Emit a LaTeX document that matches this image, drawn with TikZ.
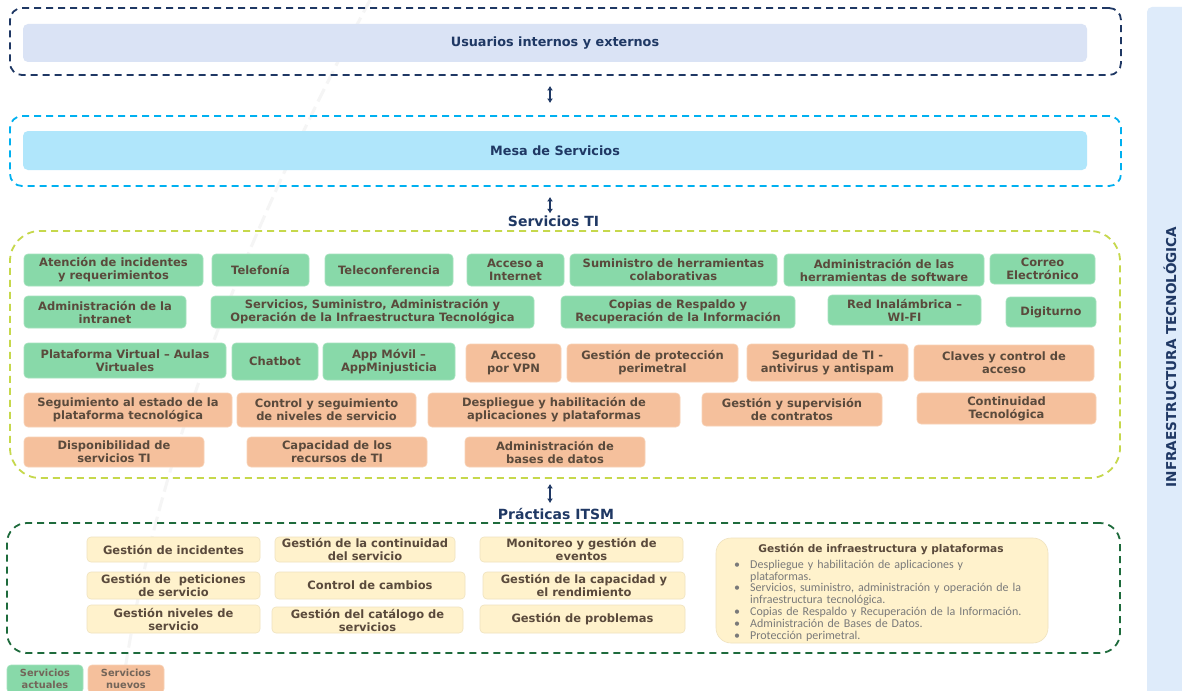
\documentclass[tikz,border=0pt]{standalone}
\usepackage{fontspec}
\setmainfont{DejaVu Sans}
\newfontfamily\carl{Carlito}
\usetikzlibrary{arrows.meta}
\definecolor{navy}{HTML}{1F3864}
\definecolor{cyanline}{HTML}{00B0F0}
\definecolor{lavfill}{HTML}{DAE3F5}
\definecolor{cyanfill}{HTML}{B0E6FB}
\definecolor{ygline}{HTML}{C6D84C}
\definecolor{dgreen}{HTML}{1E6B3C}
\definecolor{gfill}{HTML}{88D9A9}
\definecolor{gedge}{HTML}{A6E2BE}
\definecolor{ofill}{HTML}{F5C09C}
\definecolor{oedge}{HTML}{F8D2B6}
\definecolor{yfill}{HTML}{FFF2CC}
\definecolor{yedge}{HTML}{EFE2BE}
\definecolor{boxtxt}{HTML}{5A4A3C}
\definecolor{bultxt}{HTML}{7A7A7A}
\definecolor{panel}{HTML}{DEEBFA}
\newcommand\mkbox[7]{\node[#1, minimum width={(#5-#3)*1pt}, minimum height={(#6-#4)*1pt}] (#2) at ({(#3+#5)/2},{(#4+#6)/2}) {#7};}
\tikzset{
  frame/.style={rounded corners=12pt, line width=1.8pt, dash pattern=on 7pt off 5pt, inner sep=0pt},
  bar/.style={rounded corners=5pt, inner sep=0pt, font=\bfseries\fontsize{12.8}{15}\selectfont, text=navy},
  tile/.style={rounded corners=4pt, inner sep=0pt, align=center, font=\bfseries\fontsize{11.5}{13}\selectfont, text=boxtxt, line width=0.6pt},
  gtile/.style={tile, fill=gfill, draw=gedge},
  otile/.style={tile, fill=ofill, draw=oedge},
  ytile/.style={tile, fill=yfill, draw=yedge},
  legtile/.style={tile, font=\bfseries\fontsize{9.8}{12}\selectfont, text=boxtxt!85!white},
  dblarrow/.style={navy, line width=2pt, {Latex[length=4.5pt,width=6pt]}-{Latex[length=4.5pt,width=6pt]}},
  heading/.style={inner sep=1pt, font=\bfseries\fontsize{14}{16}\selectfont, text=navy}
}
\begin{document}
\begin{tikzpicture}[x=1pt,y=-1pt]
\useasboundingbox (0,0) rectangle (1182,690);
\clip (0,0) rectangle (1182,690);
\fill[white] (0,0) rectangle (1182,690);
% faint background trace
\draw[black!4, line width=3pt, dash pattern=on 14pt off 6pt] (370,0) .. controls (280,170) and (160,420) .. (122,690);
% right panel
\fill[panel, rounded corners=5pt] (1147,7) rectangle (1195,700);
\node[rotate=90, font=\bfseries\fontsize{13.6}{15}\selectfont, text=navy] (infra) at (1170,357) {INFRAESTRUCTURA TECNOLÓGICA};
% frames
\mkbox{frame, draw=navy}{f1}{10}{8}{1121}{75}{}
\mkbox{bar, fill=lavfill}{bar1}{23}{24}{1087}{62}{Usuarios internos y externos}
\mkbox{frame, draw=cyanline}{f2}{10}{116}{1121}{186}{}
\mkbox{bar, fill=cyanfill}{bar2}{23}{131}{1087}{170}{Mesa de Servicios}
\node[heading] (ti) at (553.5,221) {Servicios TI};
\mkbox{frame, draw=ygline, rounded corners=30pt}{f3}{10}{231}{1120}{478}{}
\node[heading] (it) at (556,514) {Prácticas ITSM};
\mkbox{frame, draw=dgreen, rounded corners=20pt}{f4}{7}{523}{1120}{653}{}
% arrows
\coordinate (ax) at (550,0);
\draw[dblarrow, shorten <=10pt, shorten >=12pt] (ax |- f1.south) -- (ax |- f2.north);
\draw[dblarrow, shorten <=10pt, shorten >=1pt] (ax |- f2.south) -- (ax |- ti.north);
\draw[dblarrow, shorten <=5pt, shorten >=4pt] (ax |- f3.south) -- (ax |- it.north);
% row 1
\mkbox{gtile}{g11}{24}{254}{203}{286}{Atención de incidentes\\y requerimientos}
\mkbox{gtile}{g12}{212}{254}{309}{286}{Telefonía}
\mkbox{gtile}{g13}{325}{254}{453}{286}{Teleconferencia}
\mkbox{gtile}{g14}{467}{254}{564}{286}{Acceso a\\Internet}
\mkbox{gtile}{g15}{570}{254}{777}{286}{Suministro de herramientas\\colaborativas}
\mkbox{gtile}{g16}{784}{254}{984}{286}{Administración de las\\herramientas de software}
\mkbox{gtile}{g17}{990}{254}{1095}{284}{Correo\\Electrónico}
% row 2
\mkbox{gtile}{g21}{24}{296}{186}{328}{Administración de la\\intranet}
\mkbox{gtile}{g22}{211}{296}{534}{328}{Servicios, Suministro, Administración y\\Operación de la Infraestructura Tecnológica}
\mkbox{gtile}{g23}{561}{296}{795}{328}{Copias de Respaldo y\\Recuperación de la Información}
\mkbox{gtile}{g24}{828}{295}{981}{325}{Red Inalámbrica –\\WI-FI}
\mkbox{gtile}{g25}{1006}{297}{1096}{327}{Digiturno}
% row 3
\mkbox{gtile}{g31}{24}{343}{226}{378}{Plataforma Virtual – Aulas\\Virtuales}
\mkbox{gtile}{g32}{232}{343}{318}{380}{Chatbot}
\mkbox{gtile}{g33}{323}{343}{455}{380}{App Móvil –\\AppMinjusticia}
\mkbox{otile}{o34}{466}{344}{561}{382}{Acceso\\por VPN}
\mkbox{otile}{o35}{567}{344}{738}{382}{Gestión de protección\\perimetral}
\mkbox{otile}{o36}{747}{344}{908}{381}{Seguridad de TI -\\antivirus y antispam}
\mkbox{otile}{o37}{914}{345}{1094}{381}{Claves y control de\\acceso}
% row 4
\mkbox{otile}{o41}{24}{393}{232}{427}{Seguimiento al estado de la\\plataforma tecnológica}
\mkbox{otile}{o42}{237}{393}{416}{427}{Control y seguimiento\\de niveles de servicio}
\mkbox{otile}{o43}{428}{393}{680}{427}{Despliegue y habilitación de\\aplicaciones y plataformas}
\mkbox{otile}{o44}{702}{393}{882}{426}{Gestión y supervisión\\de contratos}
\mkbox{otile}{o45}{917}{393}{1096}{424}{Continuidad\\Tecnológica}
% row 5
\mkbox{otile}{o51}{24}{437}{204}{467}{Disponibilidad de\\servicios TI}
\mkbox{otile}{o52}{247}{437}{427}{467}{Capacidad de los\\recursos de TI}
\mkbox{otile}{o53}{465}{437}{645}{467}{Administración de\\bases de datos}
% ITSM practices
\mkbox{ytile}{y11}{87}{537}{260}{562}{Gestión de incidentes}
\mkbox{ytile}{y12}{87}{572}{260}{599}{Gestión de~ peticiones\\de servicio}
\mkbox{ytile}{y13}{87}{605}{260}{633}{Gestión niveles de\\servicio}
\mkbox{ytile}{y21}{275}{537}{455}{562}{Gestión de la continuidad\\del servicio}
\mkbox{ytile}{y22}{275}{572}{465}{599}{Control de cambios}
\mkbox{ytile}{y23}{272}{607}{463}{633}{Gestión del catálogo de\\servicios}
\mkbox{ytile}{y31}{480}{537}{683}{562}{Monitoreo y gestión de\\eventos}
\mkbox{ytile}{y32}{483}{572}{685}{599}{Gestión de la capacidad y\\el rendimiento}
\mkbox{ytile}{y33}{480}{605}{685}{633}{Gestión de problemas}
\mkbox{ytile, rounded corners=15pt}{big}{716}{538}{1048}{643}{}
\node[inner sep=0pt, font=\bfseries\fontsize{10.6}{12}\selectfont, text=boxtxt] (bigt) at (881,549) {Gestión de infraestructura y plataformas};
\node[anchor=north west, inner sep=0pt, text width=310pt, font=\carl\fontsize{12}{11.9}\selectfont, text=bultxt] (bigl) at (728,556) {%
\begin{list}{\textbullet}{\setlength\leftmargin{22pt}\setlength\labelwidth{12pt}\setlength\labelsep{10pt}\setlength\itemsep{0pt}\setlength\parsep{0pt}\setlength\topsep{0pt}\setlength\partopsep{0pt}}
\item Despliegue y habilitación de aplicaciones y\newline plataformas.
\item Servicios, suministro, administración y operación de la\newline infraestructura tecnológica.
\item Copias de Respaldo y Recuperación de la Información.
\item Administración de Bases de Datos.
\item Protección perimetral.
\end{list}};
% legend
\mkbox{legtile, fill=gfill, draw=gedge}{lg1}{7}{665}{83}{693}{Servicios\\actuales}
\mkbox{legtile, fill=ofill, draw=oedge}{lg2}{88}{665}{164}{693}{Servicios\\nuevos}
\end{tikzpicture}
\end{document}
